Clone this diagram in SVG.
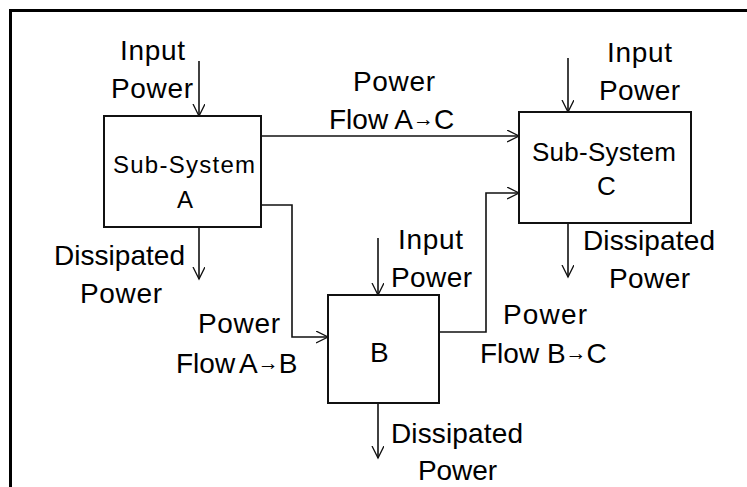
<svg xmlns="http://www.w3.org/2000/svg" width="747" height="487" viewBox="0 0 747 487">
<defs>
<marker id="arr" markerUnits="userSpaceOnUse" markerWidth="14" markerHeight="14" refX="12" refY="6" orient="auto">
<path d="M0,0 L12,6 L0,12" fill="none" stroke="#111" stroke-width="1.3"/>
</marker>
<style>
.box{fill:#fff;stroke:#111;stroke-width:2}
.ln{fill:none;stroke:#111;stroke-width:1.6}
text{font-family:"Liberation Sans",Arial,sans-serif;font-size:28px;fill:#000}
.small{font-size:24px}
.mid{font-size:26px}
.ar{font-size:21px}
</style>
</defs>
<rect x="0" y="0" width="747" height="487" fill="#fff"/>
<rect x="10.5" y="10.5" width="760" height="500" fill="none" stroke="#000" stroke-width="3"/>

<g id="connectors">
<line class="ln" x1="199" y1="61" x2="199" y2="116" marker-end="url(#arr)"/>
<line class="ln" x1="568" y1="58" x2="568" y2="112" marker-end="url(#arr)"/>
<line class="ln" x1="378" y1="238" x2="378" y2="295" marker-end="url(#arr)"/>
<line class="ln" x1="199" y1="227" x2="199" y2="279" marker-end="url(#arr)"/>
<line class="ln" x1="568" y1="223" x2="568" y2="277" marker-end="url(#arr)"/>
<line class="ln" x1="378" y1="403" x2="378" y2="458" marker-end="url(#arr)"/>
<line class="ln" x1="261" y1="136" x2="519" y2="136" marker-end="url(#arr)"/>
<polyline class="ln" points="261,205 292,205 292,337 328,337" marker-end="url(#arr)"/>
<polyline class="ln" points="439,332 486,332 486,193 519,193" marker-end="url(#arr)"/>
</g>

<g id="nodeA">
<rect class="box" x="104" y="116" width="157" height="111"/>
<text class="small" x="113" y="173" textLength="142">Sub-System</text>
<text class="small" x="177" y="208">A</text>
</g>
<g id="nodeB">
<rect class="box" x="328" y="295" width="111" height="108"/>
<text x="370" y="362">B</text>
</g>
<g id="nodeC">
<rect class="box" x="519" y="112" width="172" height="111"/>
<text class="mid" x="532" y="161" textLength="144">Sub-System</text>
<text class="mid" x="597" y="195">C</text>
</g>

<g id="labels">
<text x="120" y="60" textLength="65">Input</text>
<text x="111" y="98" textLength="82">Power</text>
<text x="607" y="62" textLength="65">Input</text>
<text x="599" y="100" textLength="81">Power</text>
<text x="398" y="249" textLength="65">Input</text>
<text x="391" y="287" textLength="81">Power</text>
<text x="54" y="265" textLength="131">Dissipated</text>
<text x="80" y="303" textLength="82">Power</text>
<text x="583" y="250" textLength="132">Dissipated</text>
<text x="609" y="288" textLength="81">Power</text>
<text x="391" y="443" textLength="132">Dissipated</text>
<text x="418" y="480" textLength="79">Power</text>
<text x="353" y="91" textLength="82">Power</text>
<text x="329" y="129">Flow A<tspan class="ar" dy="-3">→</tspan><tspan dy="3">C</tspan></text>
<text x="198" y="333" textLength="82">Power</text>
<text x="176" y="373">Flow<tspan x="239">A</tspan><tspan class="ar" dy="-3">→</tspan><tspan dy="3">B</tspan></text>
<text x="503" y="324" textLength="84">Power</text>
<text x="480" y="363">Flow B<tspan class="ar" dy="-3">→</tspan><tspan dy="3">C</tspan></text>
</g>
</svg>
